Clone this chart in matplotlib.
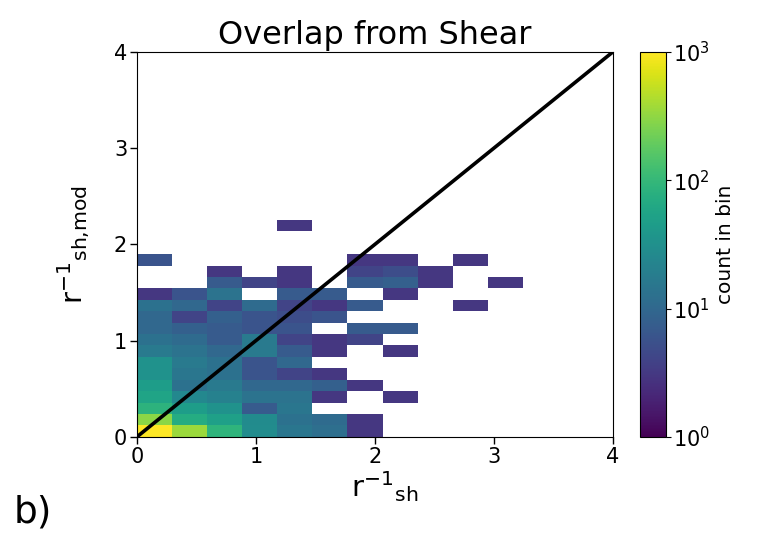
import numpy as np
import matplotlib
matplotlib.use("Agg")
import matplotlib.pyplot as plt
from matplotlib.colors import LogNorm

# bin edges of the 2-D histogram (x: r^-1_sh, y: r^-1_sh,mod)
x_width = 0.295
y_width = 0.1187
n_x = 11
n_y = 19

# counts per bin, one list per y row from the bottom, 11 x bins each
counts_rows = [
    [1000, 350, 90, 28, 15, 12, 3, 0, 0, 0, 0],
    [300, 70, 50, 27, 13, 11, 3, 0, 0, 0, 0],
    [85, 46, 34, 7, 15, 0, 0, 0, 0, 0, 0],
    [56, 25, 20, 14, 14, 3, 0, 3, 0, 0, 0],
    [45, 13, 17, 10, 10, 8, 3, 0, 0, 0, 0],
    [34, 15, 13, 6, 4, 3, 0, 0, 0, 0, 0],
    [34, 17, 13, 6, 10, 0, 0, 0, 0, 0, 0],
    [17, 14, 10, 17, 7, 3, 0, 3, 0, 0, 0],
    [13, 11, 7, 17, 4, 3, 4, 0, 0, 0, 0],
    [10, 8, 7, 6, 6, 0, 7, 7, 0, 0, 0],
    [10, 4, 8, 6, 5, 6, 0, 0, 0, 0, 0],
    [13, 10, 4, 11, 4, 3, 7, 0, 0, 3, 0],
    [3, 6, 14, 0, 7, 7, 0, 3, 0, 0, 0],
    [0, 0, 7, 4, 3, 0, 7, 8, 3, 0, 3],
    [0, 0, 3, 0, 3, 0, 4, 5, 3, 0, 0],
    [6, 0, 0, 0, 0, 0, 3, 3, 0, 3, 0],
    [0, 0, 0, 0, 0, 0, 0, 0, 0, 0, 0],
    [0, 0, 0, 0, 0, 0, 0, 0, 0, 0, 0],
    [0, 0, 0, 0, 3, 0, 0, 0, 0, 0, 0],
]

one_to_one = [0, 4]
ticks = [0, 1, 2, 3, 4]

x_edges = np.arange(n_x + 1) * x_width
y_edges = np.arange(n_y + 1) * y_width
counts = np.ma.masked_equal(np.array(counts_rows, dtype=float), 0)

plt.rcParams["mathtext.default"] = "regular"

fig = plt.figure(figsize=(7.65, 5.36), dpi=100)
ax = fig.add_axes([0.179, 0.185, 0.622, 0.718])
cax = fig.add_axes([0.837, 0.185, 0.033, 0.718])

mesh = ax.pcolormesh(x_edges, y_edges, counts, cmap="viridis",
                     norm=LogNorm(vmin=1, vmax=1000))
ax.plot(one_to_one, one_to_one, color="black", lw=2.6)

ax.set_xlim(0, 4)
ax.set_ylim(0, 4)
ax.set_xticks(ticks)
ax.set_yticks(ticks)
ax.tick_params(labelsize=15, length=5, width=1, pad=2)
ax.set_title("Overlap from Shear", fontsize=23, pad=6)
ax.set_xlabel(r"r$^{-1}$$_{sh}$", fontsize=21)
ax.set_ylabel(r"r$^{-1}$$_{sh{,}mod}$", fontsize=21, labelpad=16)
ax.xaxis.set_label_coords(0.52, -0.085)

cb = fig.colorbar(mesh, cax=cax)
cb.set_label("count in bin", fontsize=14.5)
cb.ax.tick_params(labelsize=15, pad=2)
cb.ax.minorticks_off()

fig.text(0.018, 0.025, "b)", fontsize=27)

fig.savefig("out.png", dpi=100)
